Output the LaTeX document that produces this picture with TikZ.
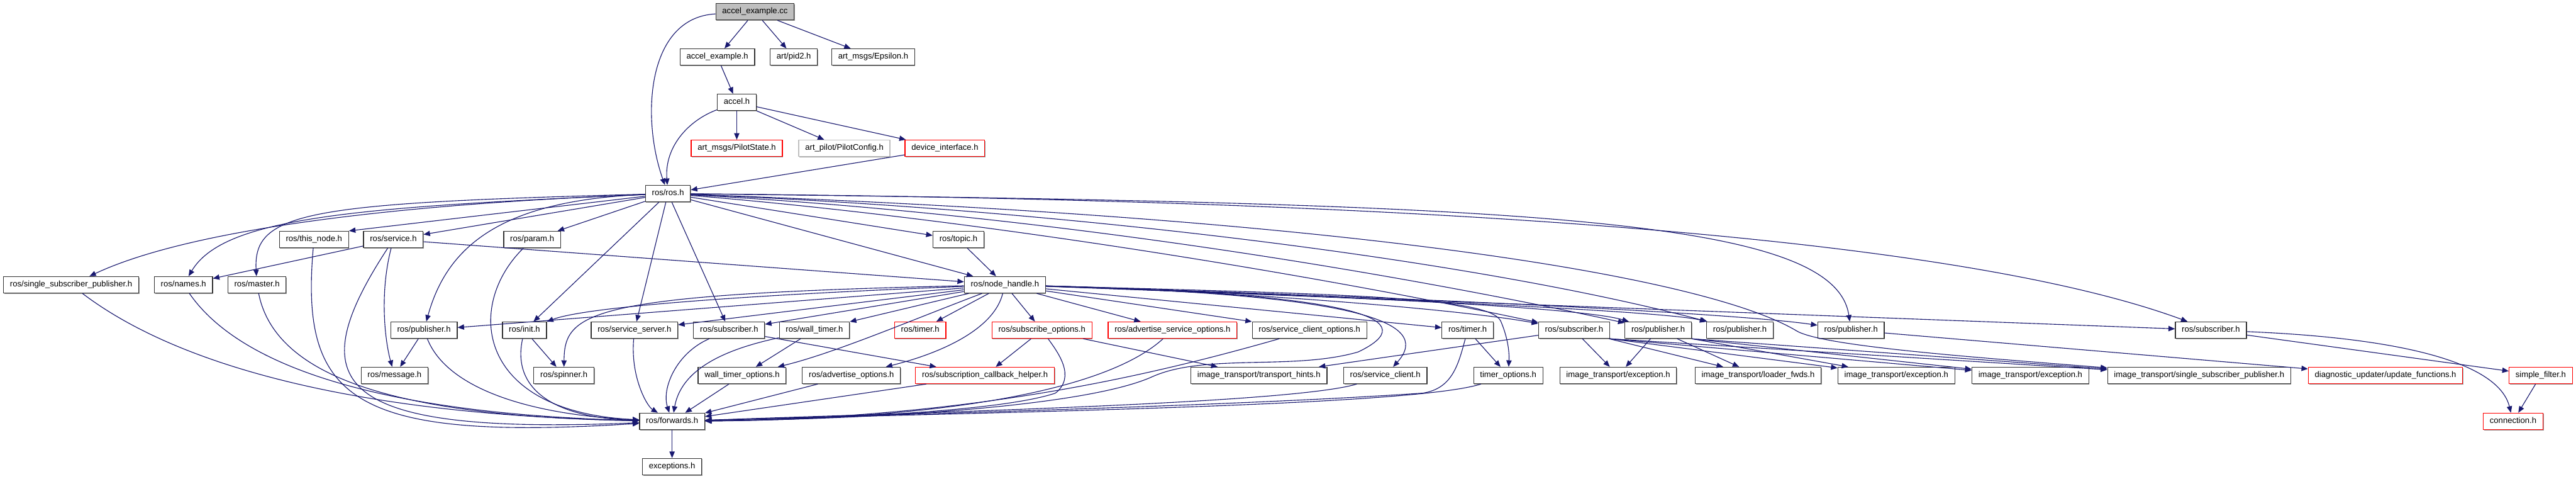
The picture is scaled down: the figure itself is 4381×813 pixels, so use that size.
\documentclass[tikz,border=0pt]{standalone}
\usepackage{fontspec}
\setmainfont{Liberation Sans}
\usepackage{tikz}
\usetikzlibrary{arrows.meta,shadows}
\definecolor{edgeblue}{HTML}{191970}
\definecolor{rootgray}{HTML}{BFBFBF}
\definecolor{nodocred}{HTML}{FF0000}
\newcommand{\hdrfont}{\fontsize{14}{16}\selectfont}

\begin{document}
\begin{tikzpicture}[x=1pt, y=-1pt,
  hdr/.style={draw=black!80, line width=1.3pt, fill=white, font=\hdrfont,
    minimum height=28pt, inner xsep=11pt, inner ysep=0pt,
    text height=10pt, text depth=3pt,
    drop shadow={shadow xshift=1.2pt, shadow yshift=-1.2pt, fill=black!40, opacity=1}},
  nodoc/.style={hdr, draw=nodocred},
  exthdr/.style={hdr, draw=rootgray},
  roothdr/.style={hdr, fill=rootgray},
  dep/.style={draw=edgeblue, line width=1.2pt, -{Triangle[length=11pt,width=9pt]}}]
  \path[use as bounding box, fill=white] (0,0) rectangle (4381,813);

  % files
  \node[roothdr] (root) at (1284,20) {accel\_example.cc};
  \foreach \name/\x/\y/\txt in {aexh/1220/97/{accel\_example.h},
      pid/1350/97/{art/pid2.h}, eps/1485/97/{art\_msgs/Epsilon.h},
      accel/1253/174/{accel.h}, ros/1136/329/{ros/ros.h},
      thisnode/534/407/{ros/this\_node.h}, service/669/407/{ros/service.h},
      param/905/407/{ros/param.h}, topic/1630/407/{ros/topic.h},
      ssp/121/484/{ros/single\_subscriber\_publisher.h},
      names/312/484/{ros/names.h}, master/437/484/{ros/master.h},
      nh/1709/484/{ros/node\_handle.h},
      pubL/721/561/{ros/publisher.h}, init/892/561/{ros/init.h},
      ssrv/1079/561/{ros/service\_server.h}, subA/1240/561/{ros/subscriber.h},
      wtimer/1385/561/{ros/wall\_timer.h},
      scopt/2227/561/{ros/service\_client\_options.h},
      timer/2496/561/{ros/timer.h}, subB/2677/561/{ros/subscriber.h},
      pubA/2820/561/{ros/publisher.h}, pubB/2959/561/{ros/publisher.h},
      pubC/3148/561/{ros/publisher.h}, subC/3760/561/{ros/subscriber.h},
      message/671/638/{ros/message.h}, spinner/959/638/{ros/spinner.h},
      wtopt/1262/638/{wall\_timer\_options.h},
      aopt/1448/638/{ros/advertise\_options.h},
      thints/2141/638/{image\_transport/transport\_hints.h},
      sclient/2356/638/{ros/service\_client.h},
      topt/2565/638/{timer\_options.h},
      excA/2752/638/{image\_transport/exception.h},
      lfwds/2990/638/{image\_transport/loader\_fwds.h},
      excB/3225/638/{image\_transport/exception.h},
      excC/3453/638/{image\_transport/exception.h},
      itssp/3740/638/{image\_transport/single\_subscriber\_publisher.h},
      fwd/1143/716/{ros/forwards.h}, exc/1143/793/{exceptions.h}}
    \node[hdr] (\name) at (\x,\y) {\txt};
  \foreach \name/\x/\y/\txt in {pstate/1253/252/{art\_msgs/PilotState.h},
      devif/1607/252/{device\_interface.h}, rtimer/1565/561/{ros/timer.h},
      subopt/1772/561/{ros/subscribe\_options.h},
      asopt/1994/561/{ros/advertise\_service\_options.h},
      scbh/1675/638/{ros/subscription\_callback\_helper.h},
      diag/4057/638/{diagnostic\_updater/update\_functions.h},
      sfilter/4321/638/{simple\_filter.h}, conn/4274/716/{connection.h}}
    \node[nodoc] (\name) at (\x,\y) {\txt};
  \node[exthdr] (pconf) at (1436,252) {art\_pilot/PilotConfig.h};

  % straight includes
  \foreach \a/\b in {root/aexh, root/pid, root/eps, aexh/accel, accel/pstate,
      accel/pconf, accel/devif, devif/ros, ros/thisnode.north east, ros/service,
      ros/param, ros/init, ros/ssrv, ros/subA, ros/nh, ros/topic, topic/nh,
      service/names, service/nh, nh/pubL, nh/ssrv, nh/subA, nh/wtimer, nh/rtimer,
      nh/subopt, nh/asopt, nh/scopt, nh/timer, nh/subC, pubL/message,
      init/spinner, subA/scbh, wtimer/wtopt, subopt/scbh, subopt/thints,
      timer/topt, wtopt/fwd, aopt/fwd, scbh/fwd, fwd/exc, subB/thints,
      subB/excA, subB/lfwds, subB.south east/excB, subB.south east/excC,
      subB.south east/itssp, pubA/excA, pubA/lfwds, pubA.south east/excB,
      pubA.south east/excC, pubA.south east/itssp, pubC/diag, subC/sfilter,
      sfilter/conn}
    \draw[dep] (\a) -- (\b);

  % curved includes
  \draw[dep] (root) .. controls (1100,30) and (1090,200) .. (ros);
  \draw[dep] (accel) .. controls (1170,205) and (1130,250) .. (ros);
  \draw[dep] (ros) .. controls (600,350) and (300,400) .. (ssp);
  \draw[dep] (ros) .. controls (600,352) and (380,370) .. (names);
  \draw[dep] (ros) .. controls (520,345) and (430,360) .. (master);
  \draw[dep] (ros) .. controls (850,340) and (760,420) .. (pubL);
  \draw[dep] (ros) .. controls (1700,375) and (2300,480) .. (subB);
  \draw[dep] (ros) .. controls (1800,365) and (2400,470) .. (pubA);
  \draw[dep] (ros) .. controls (1800,355) and (2500,440) .. (pubB);
  \draw[dep] (ros) .. controls (2600,345) and (3120,370) .. (pubC);
  \draw[dep] (ros) .. controls (2500,340) and (3350,410) .. (subC);
  \draw[dep] (ros) .. controls (2300,370) and (2900,470) .. (3055,562)
    .. controls (3100,590) and (3400,610) .. (itssp);
  \draw[dep] (nh) .. controls (1300,500) and (1000,520) .. (init);
  \draw[dep] (nh) .. controls (1000,500) and (960,530) .. (spinner);
  \draw[dep] (nh) .. controls (1560,540) and (1420,600) .. (wtopt);
  \draw[dep] (nh) .. controls (1690,560) and (1600,600) .. (aopt);
  \draw[dep] (nh) .. controls (2100,495) and (2480,525) .. (subB);
  \draw[dep] (nh) .. controls (2200,500) and (2680,520) .. (pubA);
  \draw[dep] (nh) .. controls (2300,505) and (2830,528) .. (pubB);
  \draw[dep] (nh) .. controls (2400,505) and (2950,532) .. (pubC);
  \draw[dep] (nh) .. controls (2300,500) and (2440,545) .. (sclient);
  \draw[dep] (nh) .. controls (2300,500) and (2530,505) .. (2552,545)
    .. controls (2565,575) and (2567,600) .. (topt);
  \draw[dep] (nh) .. controls (2330,500) and (2420,545) .. (2310,598)
    .. controls (2200,630) and (2050,600) .. (1960,640)
    .. controls (1850,690) and (1500,712) .. (fwd);
  \draw[dep] (ssp) .. controls (300,620) and (600,705) .. (fwd);
  \draw[dep] (names) .. controls (420,640) and (700,705) .. (fwd);
  \draw[dep] (master) .. controls (470,650) and (700,708) .. (fwd);
  \draw[dep] (thisnode) .. controls (510,680) and (600,750) .. (fwd);
  \draw[dep] (service) .. controls (510,650) and (560,740) .. (fwd);
  \draw[dep] (service) .. controls (645,500) and (655,580) .. (message);
  \draw[dep] (param) .. controls (790,520) and (810,700) .. (fwd);
  \draw[dep] (pubL) .. controls (760,660) and (900,705) .. (fwd);
  \draw[dep] (init) .. controls (870,660) and (940,710) .. (fwd);
  \draw[dep] (ssrv) .. controls (1072,640) and (1100,690) .. (fwd);
  \draw[dep] (subA) .. controls (1150,600) and (1125,660) .. (fwd);
  \draw[dep] (wtimer) .. controls (1250,590) and (1160,620) .. (fwd);
  \draw[dep] (subopt) .. controls (1800,600) and (1830,640) .. (1795,668)
    .. controls (1700,700) and (1400,712) .. (fwd);
  \draw[dep] (asopt) .. controls (1880,665) and (1600,712) .. (fwd);
  \draw[dep] (scopt) .. controls (1950,640) and (1650,710) .. (fwd);
  \draw[dep] (sclient) .. controls (2200,685) and (1600,700) .. (fwd);
  \draw[dep] (topt) .. controls (2400,690) and (1700,700) .. (fwd);
  \draw[dep] (timer) .. controls (2480,620) and (2470,660) .. (2420,668)
    .. controls (2100,690) and (1500,705) .. (fwd);
  \draw[dep] (subC) .. controls (4100,575) and (4250,620) .. (conn);
\end{tikzpicture}
\end{document}
